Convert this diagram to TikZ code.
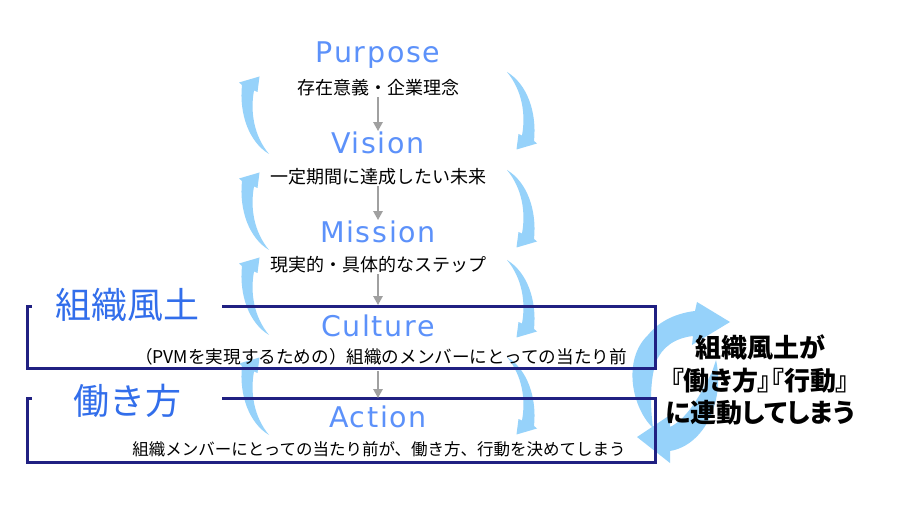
\documentclass[tikz,border=0pt]{standalone}
\usepackage{fontspec}
\setmainfont{Noto Sans CJK JP}
\newfontfamily\ttlfont{DejaVu Sans}[LetterSpace=6]
\newfontfamily\notefont{Noto Sans CJK JP}[CharacterWidth=AlternateProportional]
\usepackage{tikz}
\usetikzlibrary{arrows.meta}

\definecolor{ttlblue}{RGB}{92,145,250}
\definecolor{tagblue}{RGB}{50,110,235}
\definecolor{cycblue}{RGB}{150,210,250}
\definecolor{framenavy}{RGB}{32,32,130}
\definecolor{flowgray}{RGB}{160,160,160}

\tikzset{
  ttl/.style={anchor=base, inner sep=0pt, text=ttlblue, font=\ttlfont\fontsize{28.5}{30}\selectfont},
  sub/.style={anchor=base, inner sep=0pt, font=\fontsize{18}{20}\selectfont},
  tag/.style={anchor=base, inner sep=0pt, fill=white, minimum width=190pt, text=tagblue, font=\fontsize{36}{40}\selectfont},
  frame/.style={draw=framenavy, line width=3pt},
  flow/.style={draw=flowgray, line width=2.5pt, -{Triangle[width=9pt,length=9pt]}},
  cyc/.style={fill=cycblue}
}

% one small turning arrow, tail at the origin
\def\crescent{(0,0) .. controls (-20,12) and (-30,40) .. (-27,69) -- (-30,71.5) -- (-9.5,77.5) -- (-11.5,62) -- (-15,63.5) .. controls (-19,42) and (-15,18) .. (0,0) -- cycle}

\begin{document}
\begin{tikzpicture}[x=1pt, y=1pt]
	\fill[white] (0,0) rectangle (910,-510);
	\useasboundingbox (0,0) rectangle (910,-510);

	% turning arrows
	\foreach \ty in {154,250,335,435}
		\fill[cyc, shift={(269,-\ty)}] \crescent;
	\foreach \ty in {72,170,260,357}
		\fill[cyc, shift={(507,-\ty)}, rotate=180] \crescent;

	% the big pair on the right
	\fill[cyc] (653,-428) .. controls (632,-408) and (622,-360) .. (648,-335)
		.. controls (660,-320) and (678,-313) .. (695,-311) -- (697,-302) -- (730,-322)
		-- (692,-345) -- (693,-336) .. controls (675,-338) and (662,-347) .. (656,-362)
		.. controls (650,-380) and (650,-405) .. (653,-428) -- cycle;
	\fill[cyc] (670,-427) .. controls (685,-420) and (698,-400) .. (712,-372) -- (716,-360)
		.. controls (725,-400) and (705,-445) .. (670,-451) -- (670,-463) -- (637,-437)
		-- (670,-415) -- cycle;

	% frames
	\draw[frame] (27,-307) rectangle (655,-369);
	\draw[frame] (27,-398) rectangle (655,-462);
	\node[tag] (tagc) at (127,-319) {組織風土};
	\node[tag] (taga) at (127,-414) {働き方};

	% levels
	\node[ttl] (pur) at (378,-63) {Purpose};
	\node[sub] (purj) at (378,-95) {存在意義・企業理念};
	\node[ttl] (vis) at (378,-154) {Vision};
	\node[sub] (visj) at (378,-184) {一定期間に達成したい未来};
	\node[ttl] (mis) at (378,-243) {Mission};
	\node[sub] (misj) at (378,-272) {現実的・具体的なステップ};
	\node[ttl] (cul) at (378,-337) {Culture};
	\node[sub, font=\fontsize{17.6}{20}\selectfont] (culj) at (381,-363) {（PVMを実現するための）組織のメンバーにとっての当たり前};
	\node[ttl] (act) at (378,-427) {Action};
	\node[sub, font=\fontsize{16.5}{20}\selectfont] (actj) at (379,-455) {組織メンバーにとっての当たり前が、働き方、行動を決めてしまう};

	\node[font=\notefont\bfseries\fontsize{26}{32.5}\selectfont, align=center] (note) at (760,-380) {組織風土が\\『働き方』『行動』\\に連動してしまう};

	% flow
	\draw[flow, shorten <=0.5pt, shorten >=1pt] (purj.south) -- (vis.north);
	\draw[flow, shorten <=0.5pt, shorten >=1pt] (visj.south) -- (mis.north);
	\draw[flow, shorten <=0.5pt, shorten >=10pt] (misj.south) -- (cul.north);
	\draw[flow, shorten <=6.5pt, shorten >=7pt] (act.north |- culj.south) -- (act.north);
\end{tikzpicture}
\end{document}
